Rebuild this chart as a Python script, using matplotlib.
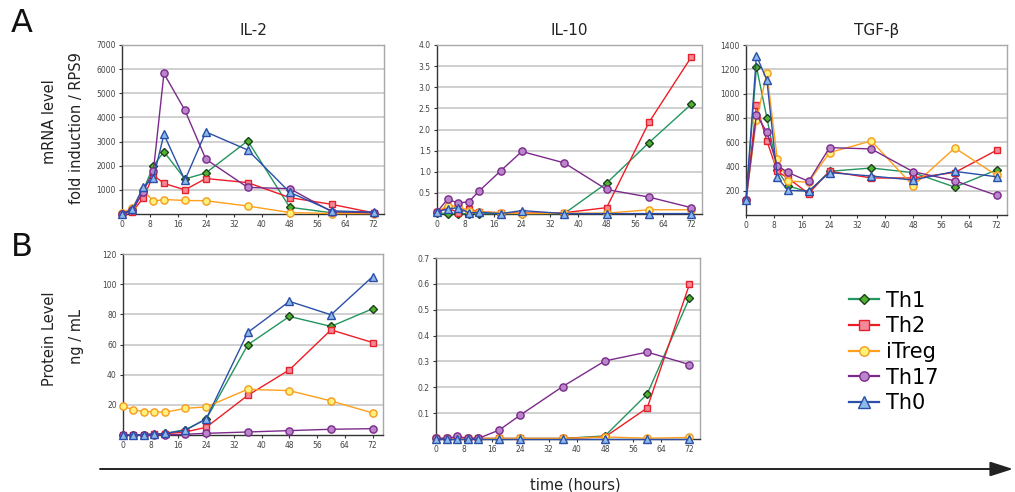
import matplotlib
matplotlib.use("Agg")
import matplotlib.pyplot as plt
from matplotlib.patches import FancyArrowPatch
from matplotlib.lines import Line2D

plt.rcParams['font.family'] = ['DejaVu Sans']

# ---------------- data ----------------
times = [0, 3, 6, 9, 12, 18, 24, 36, 48, 60, 72]
series_names = ["Th1", "Th2", "iTreg", "Th17", "Th0"]

# A: mRNA level (fold induction / RPS9)
il2_mrna_th1 = [0, 150, 950, 2000, 2580, 1450, 1700, 3030, 280, 50, 50]
il2_mrna_th2 = [0, 100, 650, 1600, 1270, 1000, 1470, 1300, 680, 400, 50]
il2_mrna_itreg = [50, 250, 1000, 530, 600, 560, 550, 330, 60, 20, 20]
il2_mrna_th17 = [0, 150, 900, 1800, 5820, 4300, 2270, 1100, 1050, 100, 50]
il2_mrna_th0 = [0, 200, 1100, 1500, 3300, 1400, 3400, 2650, 900, 130, 80]

il10_mrna_th1 = [0.02, 0.01, 0.01, 0.01, 0.01, 0.01, 0.01, 0.01, 0.73, 1.69, 2.60]
il10_mrna_th2 = [0.05, 0.15, 0.03, 0.12, 0.05, 0.03, 0.02, 0.03, 0.15, 2.17, 3.72]
il10_mrna_itreg = [0.05, 0.20, 0.18, 0.08, 0.05, 0.03, 0.01, 0.02, 0.02, 0.10, 0.10]
il10_mrna_th17 = [0.05, 0.35, 0.26, 0.29, 0.55, 1.02, 1.48, 1.21, 0.58, 0.40, 0.15]
il10_mrna_th0 = [0.05, 0.12, 0.15, 0.03, 0.04, 0.01, 0.08, 0.01, 0.01, 0.01, 0.01]

tgfb_mrna_th1 = [120, 1220, 800, 370, 240, 190, 360, 387, 349, 230, 371]
tgfb_mrna_th2 = [120, 904, 610, 360, 305, 177, 360, 305, 305, 350, 533]
tgfb_mrna_itreg = [120, 781, 1171, 459, 280, 270, 514, 610, 241, 552, 327]
tgfb_mrna_th17 = [120, 827, 681, 406, 351, 277, 555, 544, 357, 282, 162]
tgfb_mrna_th0 = [123, 1312, 1111, 312, 203, 197, 349, 321, 288, 359, 315]

# B: protein level (ng / mL)
il2_prot_th1 = [0, 0, 0.3, 0.5, 1, 3.5, 10.5, 59.8, 78.6, 72, 83.7]
il2_prot_th2 = [0, 0, 0.3, 0.5, 0.8, 2, 5.1, 26.3, 43.2, 69.7, 61.3]
il2_prot_itreg = [19, 16.8, 15.5, 15.5, 15, 17.7, 18.6, 30.3, 29.4, 22.6, 14.6]
il2_prot_th17 = [0, 0, 0, 0, 0, 0.5, 1.1, 2.0, 2.9, 3.8, 4.2]
il2_prot_th0 = [0, 0, 0.3, 0.5, 1, 3.1, 10.8, 68, 88.6, 79.7, 105]

il10_prot_th1 = [0.002, 0.002, 0.002, 0.002, 0.002, 0.002, 0.002, 0.002, 0.012, 0.174, 0.545]
il10_prot_th2 = [0.002, 0.002, 0.002, 0.002, 0.002, 0.002, 0.002, 0.002, 0.008, 0.120, 0.598]
il10_prot_itreg = [0.002, 0.002, 0.002, 0.002, 0.002, 0.002, 0.002, 0.002, 0.008, 0.003, 0.006]
il10_prot_th17 = [0.002, 0.002, 0.010, 0.003, 0.002, 0.035, 0.093, 0.203, 0.302, 0.336, 0.288]
il10_prot_th0 = [0, 0, 0, 0, 0, 0, 0, 0, 0, 0, 0]

panel_titles = ["IL-2", "IL-10", "TGF-\u03b2"]
x_ticks = [0, 8, 16, 24, 32, 40, 48, 56, 64, 72]

# ---------------- styles ----------------
styles = {
    "Th1": dict(color='#23955e', marker='D', mfc='#4fb330', mec='#1c3f1c', ms=4.2),
    "Th2": dict(color='#ee1d25', marker='s', mfc='#f4899a', mec='#e3232c', ms=5.0),
    "iTreg": dict(color='#ff9f1c', marker='o', mfc='#fff27a', mec='#f49a1e', ms=5.2),
    "Th17": dict(color='#7b2a8b', marker='o', mfc='#b987c9', mec='#7b2a8b', ms=5.2),
    "Th0": dict(color='#2b4fa8', marker='^', mfc='#8cb9ea', mec='#2b4fa8', ms=6.2),
}

W, H = 1015, 492
fig = plt.figure(figsize=(W / 100, H / 100), dpi=100)


def add_axes(left, right, top, bottom):
    return fig.add_axes([left / W, 1 - bottom / H, (right - left) / W, (bottom - top) / H])


def style_axes(ax, ylim, yticks, ylabels):
    ax.set_xlim(0, 75)
    ax.set_ylim(*ylim)
    ax.set_xticks(x_ticks)
    ax.set_xticklabels([str(t) for t in x_ticks])
    ax.set_yticks(yticks)
    ax.set_yticklabels(ylabels)
    ax.yaxis.grid(True, color='#c8c8c8', lw=1.2)
    ax.set_axisbelow(True)
    for s in ['left', 'bottom']:
        ax.spines[s].set_color('#333333')
        ax.spines[s].set_linewidth(1.0)
    for s in ['top', 'right']:
        ax.spines[s].set_color('#a8a8a8')
        ax.spines[s].set_linewidth(1.0)
    ax.tick_params(axis='both', labelsize=5.5, labelcolor='#444444', color='#333333',
                   length=2.5, width=0.8, pad=2)


def plot_panel(ax, data):
    for name, vals in zip(series_names, data):
        st = styles[name]
        ax.plot(times, vals, lw=1.0, clip_on=False, zorder=3, **st)


# A panels
axA1 = add_axes(122, 384, 45, 214)
style_axes(axA1, (0, 7000), [1000, 2000, 3000, 4000, 5000, 6000, 7000],
           ['1000', '2000', '3000', '4000', '5000', '6000', '7000'])
plot_panel(axA1, [il2_mrna_th1, il2_mrna_th2, il2_mrna_itreg, il2_mrna_th17, il2_mrna_th0])

axA2 = add_axes(437, 702, 45, 214)
style_axes(axA2, (0, 4.0), [0.5, 1.0, 1.5, 2.0, 2.5, 3.0, 3.5, 4.0],
           ['0.5', '1.0', '1.5', '2.0', '2.5', '3.0', '3.5', '4.0'])
plot_panel(axA2, [il10_mrna_th1, il10_mrna_th2, il10_mrna_itreg, il10_mrna_th17, il10_mrna_th0])

axA3 = add_axes(746, 1007, 45, 215)
style_axes(axA3, (0, 1400), [200, 400, 600, 800, 1000, 1200, 1400],
           ['200', '400', '600', '800', '1000', '1200', '1400'])
plot_panel(axA3, [tgfb_mrna_th1, tgfb_mrna_th2, tgfb_mrna_itreg, tgfb_mrna_th17, tgfb_mrna_th0])

# B panels
axB1 = add_axes(123, 383, 254, 435)
style_axes(axB1, (0, 120), [20, 40, 60, 80, 100, 120], ['20', '40', '60', '80', '100', '120'])
plot_panel(axB1, [il2_prot_th1, il2_prot_th2, il2_prot_itreg, il2_prot_th17, il2_prot_th0])

axB2 = add_axes(436, 700, 258, 439)
style_axes(axB2, (0, 0.7), [0.1, 0.2, 0.3, 0.4, 0.5, 0.6, 0.7],
           ['0.1', '0.2', '0.3', '0.4', '0.5', '0.6', '0.7'])
plot_panel(axB2, [il10_prot_th1, il10_prot_th2, il10_prot_itreg, il10_prot_th17, il10_prot_th0])

# titles
for ax, t in zip([axA1, axA2, axA3], panel_titles):
    ax.set_title(t, fontsize=11, color='#222222', pad=7)

# panel letters and y labels
fig.text(22 / W, 1 - 23 / H, 'A', fontsize=23, ha='center', va='center', color='#111111')
fig.text(22 / W, 1 - 248 / H, 'B', fontsize=23, ha='center', va='center', color='#111111')
fig.text(50 / W, 1 - 122 / H, 'mRNA level', rotation=90, fontsize=10.5, ha='center', va='center', color='#222222')
fig.text(77 / W, 1 - 128 / H, 'fold induction / RPS9', rotation=90, fontsize=10.5, ha='center', va='center', color='#222222')
fig.text(50 / W, 1 - 339 / H, 'Protein Level', rotation=90, fontsize=10.5, ha='center', va='center', color='#222222')
fig.text(77 / W, 1 - 337 / H, 'ng / mL', rotation=90, fontsize=10.5, ha='center', va='center', color='#222222')

# time arrow
arrow = FancyArrowPatch((100 / W, 1 - 469 / H), (1013 / W, 1 - 469 / H), transform=fig.transFigure,
                        arrowstyle='-|>,head_length=1.0,head_width=0.32', mutation_scale=14,
                        lw=1.4, color='#222222', shrinkA=0, shrinkB=0)
fig.add_artist(arrow)
fig.text(575 / W, 1 - 485 / H, 'time (hours)', fontsize=10.5, ha='center', va='center', color='#222222')

# legend
handles = [Line2D([0], [0], lw=1.6, **dict(styles[n], ms=styles[n]['ms'] * 1.3)) for n in series_names]
fig.legend(handles, series_names, loc='center left', bbox_to_anchor=(849 / W, 1 - 352 / H),
           frameon=False, fontsize=15, handlelength=1.45, handletextpad=0.35,
           labelspacing=0.27, borderpad=0, borderaxespad=0)

fig.savefig('out.png', dpi=100)
